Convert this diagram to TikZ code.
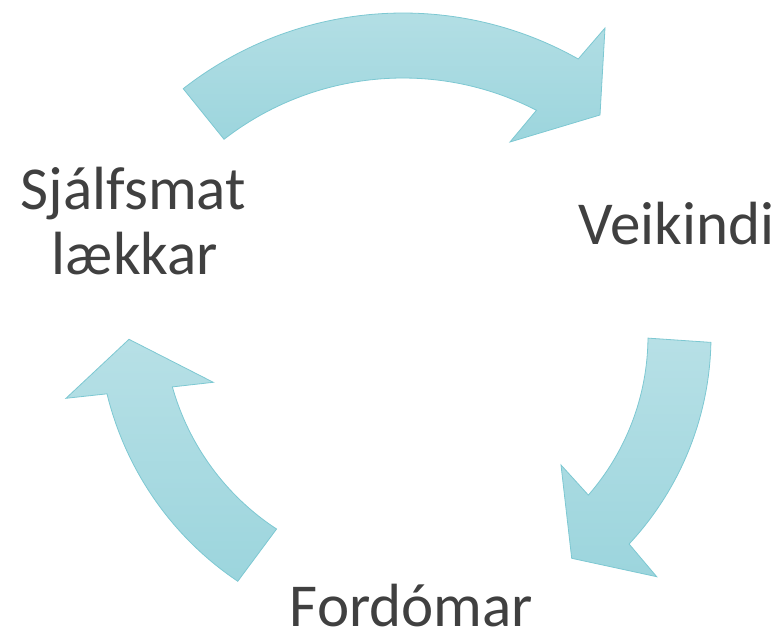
\documentclass[tikz,border=0pt]{standalone}
\usepackage{fontspec}
\setmainfont{Carlito}
\begin{document}
\begin{tikzpicture}[x=1pt,y=1pt,
  cyclearrow/.style={top color=arrowtop, bottom color=arrowbot, draw=arrowline, line width=0.8pt, line join=miter},
  label/.style={inner sep=0pt, anchor=base, text=labeltext, font=\fontsize{61}{65}\selectfont}]
\definecolor{arrowtop}{RGB}{183,224,230}
\definecolor{arrowbot}{RGB}{156,213,221}
\definecolor{arrowline}{RGB}{125,200,210}
\definecolor{labeltext}{RGB}{64,64,64}
\useasboundingbox (0,0) rectangle (782,633);
\coordinate (c1) at (403,263);
\coordinate (c2) at (406,297);
\coordinate (c3) at (414,314);
\coordinate (b1o) at (605,605);
\coordinate (t1) at (600,518);
\coordinate (b1i) at (510,491);
\coordinate (b2o) at (656.7,56.3);
\coordinate (t2) at (571.7,74.7);
\coordinate (b2i) at (561,168);
\coordinate (b3o) at (66,234.7);
\coordinate (t3) at (129,293.7);
\coordinate (b3i) at (213.3,250.7);
% top arrow
\path[cyclearrow] ([shift={(128:357)}]c1) arc[start angle=128, end angle=60.6, radius=357]
  -- (b1o) -- (t1) -- (b1i) -- ([shift={(62.8:292)}]c1)
  arc[start angle=62.8, end angle=127.8, radius=292] -- cycle;
% right arrow
\path[cyclearrow] ([shift={(-1.2:305)}]c2) arc[start angle=-1.2, end angle=-43, radius=305]
  -- (b2o) -- (t2) -- (b2i) -- ([shift={(-41.1:242)}]c2)
  arc[start angle=-41.1, end angle=-0.5, radius=242] -- cycle;
% left arrow
\path[cyclearrow] ([shift={(236.1:316)}]c3) arc[start angle=236.1, end angle=193.7, radius=316]
  -- (b3o) -- (t3) -- (b3i) -- ([shift={(195.7:251)}]c3)
  arc[start angle=195.7, end angle=236.8, radius=251] -- cycle;
% labels
\node[label] (veik) at (676.5,388) {Veikindi};
\node[label] (sj1) at (133.3,423) {Sjálfsmat};
\node[label] (sj2) at (135,358) {lækkar};
\node[label] (ford) at (411.5,7) {Fordómar};
\end{tikzpicture}
\end{document}
